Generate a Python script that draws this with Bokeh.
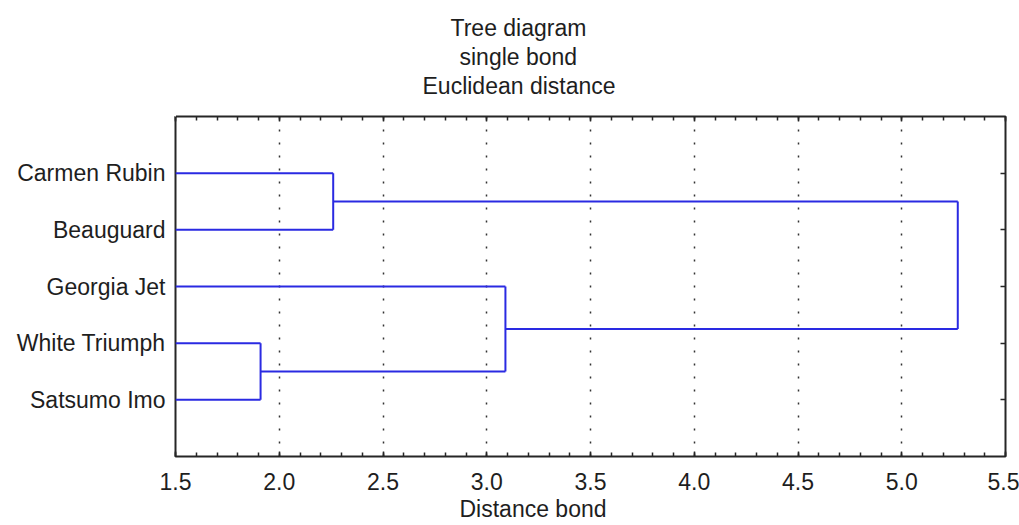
from bokeh.plotting import figure
from bokeh.models import (Range1d, LinearAxis, FixedTicker, SingleIntervalTicker,
                          Title, PrintfTickFormatter)
from bokeh.embed import file_html
from bokeh.resources import INLINE

# ---------------- data ----------------
title_lines = ["Tree diagram", "single bond", "Euclidean distance"]
leaf_labels = ["Carmen Rubin", "Beauguard", "Georgia Jet", "White Triumph", "Satsumo Imo"]
# linkage (scipy-style: clusters are numbered from len(leaf_labels) upward)
link_a = [3, 0, 2, 6]
link_b = [4, 1, 5, 7]
link_dist = [1.91, 2.26, 3.09, 5.27]
x_ticks = [1.5, 2.0, 2.5, 3.0, 3.5, 4.0, 4.5, 5.0, 5.5]
x_label = "Distance bond"

# ---------------- styles ----------------
FONT = "Liberation Sans"
FS = "23px"
TXT = "#1e1e1e"
BLUE = "#2a2ae2"
FRAME = "#262626"
# horizontal offsets (px from frame left) that centre each title line near x=518
title_offsets = [275, 284, 247]
xlabel_offset = 284

n = len(leaf_labels)
x_min, x_max = x_ticks[0], x_ticks[-1]

# node positions
node_x = {i: x_min for i in range(n)}
node_y = {i: i + 1 for i in range(n)}
x0, y0, x1, y1 = [], [], [], []
for k, (a, b, d) in enumerate(zip(link_a, link_b, link_dist)):
    for c in (a, b):
        x0.append(node_x[c]); y0.append(node_y[c]); x1.append(d); y1.append(node_y[c])
    x0.append(d); y0.append(node_y[a]); x1.append(d); y1.append(node_y[b])
    node_x[n + k] = d
    node_y[n + k] = (node_y[a] + node_y[b]) / 2

p = figure(width=1019, height=525, output_backend="svg", toolbar_location=None,
           x_range=Range1d(x_min, x_max), y_range=Range1d(n + 1, 0),
           min_border_left=175, min_border_right=14, min_border_top=116,
           min_border_bottom=69, x_axis_location=None, y_axis_location=None)
p.background_fill_color = "white"
p.border_fill_color = "white"
p.outline_line_color = FRAME
p.outline_line_width = 2

xt = SingleIntervalTicker(interval=0.5, num_minor_ticks=5)

def style_x(ax):
    ax.axis_line_color = None
    ax.major_tick_in = 5
    ax.major_tick_out = 0
    ax.minor_tick_in = 4
    ax.minor_tick_out = 0
    ax.major_tick_line_color = FRAME
    ax.minor_tick_line_color = FRAME
    ax.major_tick_line_width = 1.5
    ax.minor_tick_line_width = 1.5

bottom = LinearAxis(ticker=xt, formatter=PrintfTickFormatter(format="%.1f"))
style_x(bottom)
bottom.major_label_text_font = FONT
bottom.major_label_text_font_size = FS
bottom.major_label_text_color = TXT
bottom.major_label_standoff = 16
p.add_layout(bottom, "below")

# x-axis caption (placed like the reference: left of the frame centre)
p.add_layout(Title(text=x_label, align="left", offset=xlabel_offset, standoff=3,
                   text_font=FONT, text_font_size=FS, text_font_style="normal",
                   text_color=TXT), "below")

top = LinearAxis(ticker=xt)
style_x(top)
top.major_label_text_color = None
top.major_label_text_font_size = "1px"
top.major_label_standoff = 0
p.add_layout(top, "above")

# blank spacer between the frame and the title block (white on white)
spacer = LinearAxis(ticker=FixedTicker(ticks=[x_min], minor_ticks=[]))
spacer.axis_line_color = None
spacer.major_tick_line_color = "white"
spacer.major_tick_line_width = 1
spacer.minor_tick_line_color = None
spacer.major_tick_in = 0
spacer.major_tick_out = 17
spacer.minor_tick_in = 0
spacer.minor_tick_out = 0
spacer.major_label_text_color = None
spacer.major_label_text_font_size = "1px"
spacer.major_label_standoff = 0
p.add_layout(spacer, "above")

yt = FixedTicker(ticks=list(range(1, n + 1)), minor_ticks=[])
left = LinearAxis(ticker=yt)
left.axis_line_color = None
left.major_tick_in = 0
left.major_tick_out = 0
left.minor_tick_in = 0
left.minor_tick_out = 0
left.major_label_overrides = {i + 1: lab for i, lab in enumerate(leaf_labels)}
left.major_label_text_font = FONT
left.major_label_text_font_size = FS
left.major_label_text_color = TXT
left.major_label_standoff = 10
p.add_layout(left, "left")

right = LinearAxis(ticker=yt)
right.axis_line_color = None
right.major_tick_in = 5
right.major_tick_out = 0
right.major_tick_line_color = FRAME
right.major_tick_line_width = 1.5
right.major_label_text_color = None
right.major_label_text_font_size = "1px"
right.major_label_standoff = 0
p.add_layout(right, "right")

p.xgrid.ticker = xt
p.xgrid.grid_line_color = "#333333"
p.xgrid.grid_line_dash = "2 11"
p.xgrid.grid_line_width = 1.5
p.ygrid.visible = False

p.segment(x0=x0, y0=y0, x1=x1, y1=y1, line_color=BLUE, line_width=2)

# title lines, stacked outward from the frame
for t, off in reversed(list(zip(title_lines, title_offsets))):
    p.add_layout(Title(text=t, align="left", offset=off, standoff=1,
                       text_font=FONT, text_font_size=FS, text_font_style="normal",
                       text_color=TXT), "above")

open("out.html", "w").write(file_html(p, INLINE))
